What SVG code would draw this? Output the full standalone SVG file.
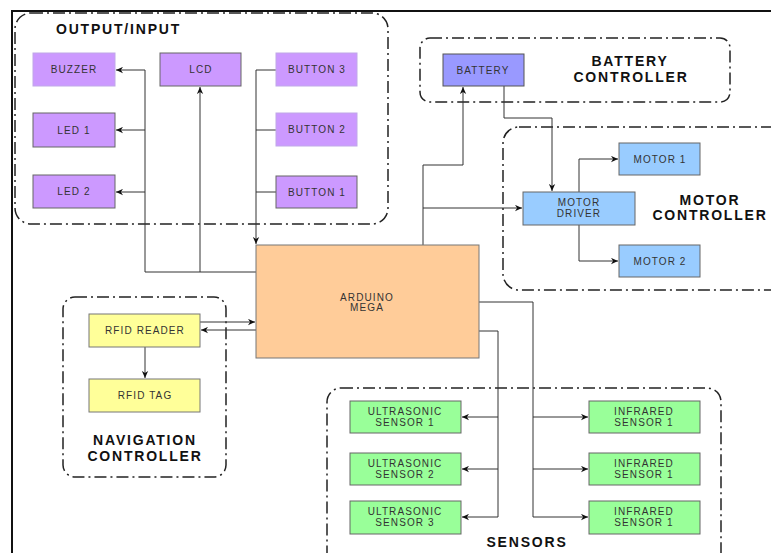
<svg xmlns="http://www.w3.org/2000/svg" width="771" height="553" viewBox="0 0 771 553">
<style>
.grp{fill:none;stroke:#222;stroke-width:1.5;stroke-dasharray:12 4 2 4}
.gl{font-family:"Liberation Sans",Arial,sans-serif;font-weight:bold;font-size:14px;letter-spacing:1.8px;fill:#111}
.nt{font-family:"Liberation Sans",Arial,sans-serif;font-size:10px;letter-spacing:1.1px;fill:#333;text-anchor:middle}
.pu{fill:#cc99ff;stroke:#666;stroke-width:1}
.pl{fill:#cc99ff;stroke:#c0a8e8;stroke-width:1}
.ba{fill:#9999ff;stroke:#555;stroke-width:1}
.mo{fill:#99ccff;stroke:#666;stroke-width:1}
.rf{fill:#ffff99;stroke:#777;stroke-width:1}
.se{fill:#99ff99;stroke:#666;stroke-width:1}
.ar{fill:#ffcc99;stroke:#777;stroke-width:1}
.cn{fill:none;stroke:#333;stroke-width:1}
</style>
<defs>
<marker id="arr" viewBox="0 0 10 10" refX="10" refY="5" markerWidth="8" markerHeight="7" orient="auto" markerUnits="userSpaceOnUse">
<path d="M0,0.5 L10,5 L0,9.5 L3,5 z" fill="#111"/>
</marker>
</defs>
<rect width="771" height="553" fill="#ffffff"/>
<path d="M12,553 L12,11 L771,11" fill="none" stroke="#111" stroke-width="2"/>

<g id="group-output-input">
<rect class="grp" x="15" y="13" width="373" height="211" rx="16"/>
<text class="gl" x="56" y="34">OUTPUT/INPUT</text>
</g>
<g id="group-battery">
<rect class="grp" x="420" y="38" width="310" height="64" rx="10"/>
<text class="gl" x="630" y="66" text-anchor="middle">BATTERY</text>
<text class="gl" x="631" y="82" text-anchor="middle">CONTROLLER</text>
</g>
<g id="group-motor">
<rect class="grp" x="503" y="127" width="290" height="163" rx="16"/>
<text class="gl" x="710" y="205" text-anchor="middle">MOTOR</text>
<text class="gl" x="710" y="220" text-anchor="middle">CONTROLLER</text>
</g>
<g id="group-navigation">
<rect class="grp" x="63" y="297" width="163" height="180" rx="12"/>
<text class="gl" x="145" y="445" text-anchor="middle">NAVIGATION</text>
<text class="gl" x="145" y="461" text-anchor="middle">CONTROLLER</text>
</g>
<g id="group-sensors">
<rect class="grp" x="327" y="388" width="394" height="180" rx="14"/>
<text class="gl" x="527" y="547" text-anchor="middle">SENSORS</text>
</g>

<g id="connectors">
<path class="cn" d="M256,272 L145,272 L145,70 L116,70" marker-end="url(#arr)"/>
<path class="cn" d="M145,130 L116,130" marker-end="url(#arr)"/>
<path class="cn" d="M145,192 L116,192" marker-end="url(#arr)"/>
<path class="cn" d="M200,272 L200,87" marker-end="url(#arr)"/>
<path class="cn" d="M276,70 L256,70 L256,244" marker-end="url(#arr)"/>
<path class="cn" d="M276,130 L256,130"/>
<path class="cn" d="M276,192 L256,192"/>
<path class="cn" d="M423,245 L423,165 L463,165 L463,87" marker-end="url(#arr)"/>
<path class="cn" d="M423,208 L522,208" marker-end="url(#arr)"/>
<path class="cn" d="M504,86 L504,118 L552,118 L552,191" marker-end="url(#arr)"/>
<path class="cn" d="M579,192 L579,159 L618,159" marker-end="url(#arr)"/>
<path class="cn" d="M579,225 L579,261 L618,261" marker-end="url(#arr)"/>
<path class="cn" d="M200,322 L255,322" marker-end="url(#arr)"/>
<path class="cn" d="M256,330 L201,330" marker-end="url(#arr)"/>
<path class="cn" d="M145,347 L145,378" marker-end="url(#arr)"/>
<path class="cn" d="M479,331 L498,331 L498,517 L462,517" marker-end="url(#arr)"/>
<path class="cn" d="M498,417 L462,417" marker-end="url(#arr)"/>
<path class="cn" d="M498,469 L462,469" marker-end="url(#arr)"/>
<path class="cn" d="M479,302 L533,302 L533,517 L588,517" marker-end="url(#arr)"/>
<path class="cn" d="M533,417 L588,417" marker-end="url(#arr)"/>
<path class="cn" d="M533,469 L588,469" marker-end="url(#arr)"/>
</g>

<g id="buzzer"><rect class="pl" x="33" y="53" width="82" height="33"/><text class="nt" x="74" y="73">BUZZER</text></g>
<g id="lcd"><rect class="pu" x="160" y="53" width="81" height="33"/><text class="nt" x="201" y="73">LCD</text></g>
<g id="button3"><rect class="pl" x="276" y="53" width="81" height="33"/><text class="nt" x="317" y="73">BUTTON 3</text></g>
<g id="led1"><rect class="pu" x="33" y="113" width="82" height="34"/><text class="nt" x="74" y="134">LED 1</text></g>
<g id="button2"><rect class="pl" x="276" y="113" width="81" height="33"/><text class="nt" x="317" y="133">BUTTON 2</text></g>
<g id="led2"><rect class="pu" x="33" y="175" width="82" height="33"/><text class="nt" x="74" y="195">LED 2</text></g>
<g id="button1"><rect class="pu" x="276" y="176" width="81" height="32"/><text class="nt" x="317" y="196">BUTTON 1</text></g>

<g id="battery"><rect class="ba" x="443" y="54" width="81" height="32"/><text class="nt" x="483" y="74">BATTERY</text></g>
<g id="motor-driver"><rect class="mo" x="523" y="192" width="112" height="33"/><text class="nt" x="579" y="206">MOTOR</text><text class="nt" x="579" y="217">DRIVER</text></g>
<g id="motor1"><rect class="mo" x="619" y="143" width="81" height="32"/><text class="nt" x="660" y="163">MOTOR 1</text></g>
<g id="motor2"><rect class="mo" x="619" y="245" width="81" height="32"/><text class="nt" x="660" y="265">MOTOR 2</text></g>

<g id="arduino"><rect class="ar" x="256" y="245" width="223" height="113"/><text class="nt" x="367" y="301">ARDUINO</text><text class="nt" x="367" y="311">MEGA</text></g>

<g id="rfid-reader"><rect class="rf" x="89" y="314" width="111" height="33"/><text class="nt" x="145" y="334">RFID READER</text></g>
<g id="rfid-tag"><rect class="rf" x="89" y="379" width="111" height="33"/><text class="nt" x="145" y="399">RFID TAG</text></g>

<g id="ultrasonic1"><rect class="se" x="350" y="401" width="111" height="32"/><text class="nt" x="405" y="415">ULTRASONIC</text><text class="nt" x="405" y="426">SENSOR 1</text></g>
<g id="ultrasonic2"><rect class="se" x="350" y="453" width="111" height="32"/><text class="nt" x="405" y="467">ULTRASONIC</text><text class="nt" x="405" y="478">SENSOR 2</text></g>
<g id="ultrasonic3"><rect class="se" x="350" y="501" width="111" height="33"/><text class="nt" x="405" y="515">ULTRASONIC</text><text class="nt" x="405" y="526">SENSOR 3</text></g>
<g id="infrared1"><rect class="se" x="589" y="401" width="111" height="32"/><text class="nt" x="644" y="415">INFRARED</text><text class="nt" x="644" y="426">SENSOR 1</text></g>
<g id="infrared2"><rect class="se" x="589" y="453" width="111" height="32"/><text class="nt" x="644" y="467">INFRARED</text><text class="nt" x="644" y="478">SENSOR 1</text></g>
<g id="infrared3"><rect class="se" x="589" y="501" width="111" height="33"/><text class="nt" x="644" y="515">INFRARED</text><text class="nt" x="644" y="526">SENSOR 1</text></g>
</svg>
